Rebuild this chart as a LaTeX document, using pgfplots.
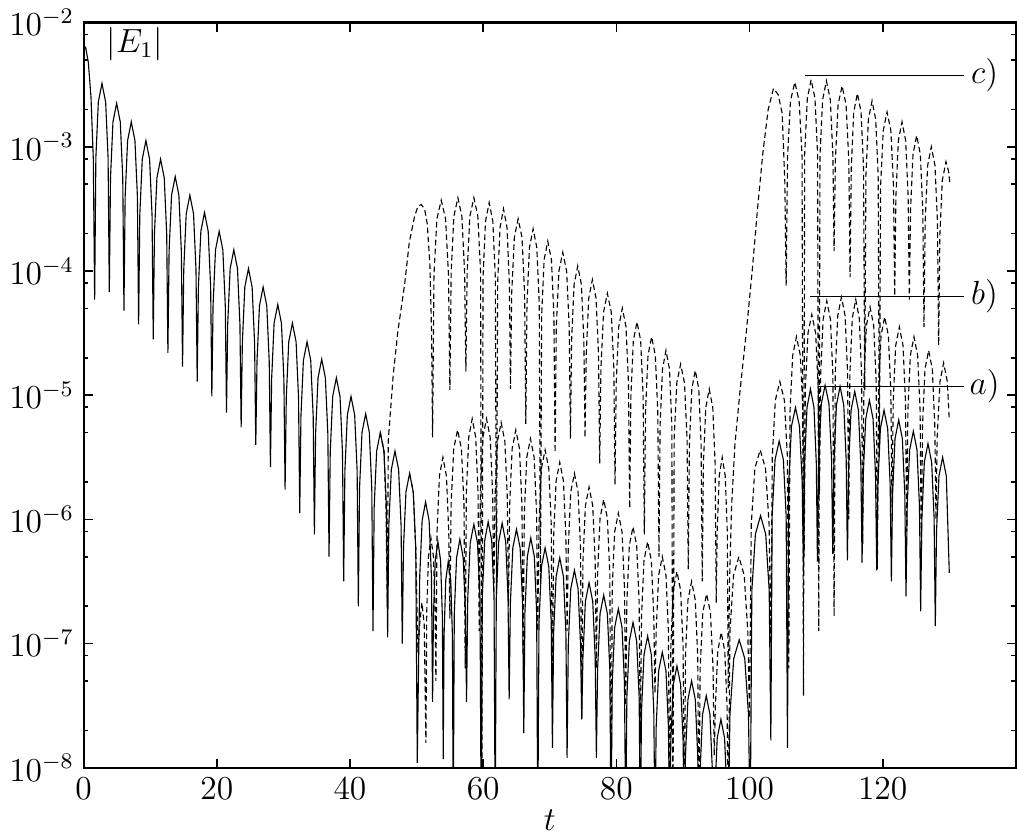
\documentclass[border=0pt]{standalone}
\usepackage{pgfplots}
\pgfplotsset{compat=1.18}
\begin{document}
% y values are log10|E_1|
\begin{tikzpicture}
\begin{axis}[
    scale only axis, width=334pt, height=267pt,
    xmin=0, xmax=140, ymin=-8, ymax=-2,
    xtick={0,20,40,60,80,100,120},
    ytick={-8,-7,-6,-5,-4,-3,-2},
    yticklabels={$10^{-8}$,$10^{-7}$,$10^{-6}$,$10^{-5}$,$10^{-4}$,$10^{-3}$,$10^{-2}$},
    minor ytick={-7.699,-7.301,-7.097,-6.699,-6.301,-6.097,-5.699,-5.301,-5.097,-4.699,-4.301,-4.097,-3.699,-3.301,-3.097,-2.699,-2.301,-2.097},
    tick align=inside,
    major tick length=3.2pt, minor tick length=1.6pt,
    axis line style={line width=0.8pt},
    tick style={line width=0.6pt, black},
    tick label style={font=\large},
    label style={font=\large},
    xlabel={$t$},
    xlabel style={yshift=3pt},
    no markers,
]
% c)
\addplot[black, line width=0.4pt, dash pattern=on 2pt off 1.2pt] coordinates {
(44.55,-5.30) (45.1,-5.45) (45.4,-5.9) (45.6,-6.71)
(45.75,-5.36) (46.5,-4.83) (47.2,-4.48) (48.2,-4.11) (48.9,-3.77) (49.7,-3.56) (50.2,-3.48) (50.7,-3.465) (51.2,-3.50) (51.6,-3.62) (52.0,-3.95) (52.25,-4.5) (52.4,-5.34)
(52.61,-4.03) (53.05,-3.58) (53.7,-3.43) (54.35,-3.58) (54.79,-4.03) (55.0,-4.96)
(55.19,-4.01) (55.6,-3.56) (56.2,-3.41) (56.8,-3.56) (57.21,-4.01) (57.4,-4.81)
(57.59,-4.01) (58.0,-3.56) (58.6,-3.41) (59.2,-3.56) (59.61,-4.01) (59.8,-8.5)
(59.98,-4.05) (60.35,-3.60) (60.9,-3.45) (61.45,-3.60) (61.82,-4.05) (62.0,-6.6)
(62.17,-4.10) (62.53,-3.65) (63.05,-3.50) (63.58,-3.65) (63.93,-4.10) (64.1,-4.95)
(64.28,-4.18) (64.68,-3.73) (65.25,-3.58) (65.83,-3.73) (66.22,-4.18) (66.4,-5.23)
(66.58,-4.26) (66.95,-3.81) (67.5,-3.66) (68.05,-3.81) (68.42,-4.26) (68.6,-6.5)
(68.78,-4.36) (69.15,-3.91) (69.7,-3.76) (70.25,-3.91) (70.62,-4.36) (70.8,-5.46)
(70.98,-4.45) (71.38,-4.00) (71.95,-3.85) (72.53,-4.00) (72.92,-4.45) (73.1,-5.35)
(73.28,-4.56) (73.65,-4.11) (74.2,-3.96) (74.75,-4.11) (75.12,-4.56) (75.3,-5.34)
(75.48,-4.67) (75.85,-4.22) (76.4,-4.07) (76.95,-4.22) (77.32,-4.67) (77.5,-5.55)
(77.68,-4.78) (78.08,-4.33) (78.65,-4.18) (79.23,-4.33) (79.62,-4.78) (79.8,-5.72)
(79.98,-4.90) (80.35,-4.45) (80.9,-4.30) (81.45,-4.45) (81.82,-4.90) (82.0,-5.91)
(82.18,-5.01) (82.55,-4.56) (83.1,-4.41) (83.65,-4.56) (84.02,-5.01) (84.2,-6.12)
(84.38,-5.13) (84.75,-4.68) (85.3,-4.53) (85.85,-4.68) (86.22,-5.13) (86.4,-6.3)
(86.57,-5.24) (86.93,-4.79) (87.45,-4.64) (87.98,-4.79) (88.33,-5.24) (88.5,-8.5)
(88.68,-5.35) (89.08,-4.90) (89.65,-4.75) (90.23,-4.90) (90.62,-5.35) (90.8,-6.4)
(90.97,-5.40) (91.33,-4.95) (91.85,-4.80) (92.38,-4.95) (92.73,-5.40) (92.9,-6.5)
(93.07,-5.55) (93.43,-5.10) (93.95,-4.95) (94.48,-5.10) (94.83,-5.55) (95.0,-6.67)
(95.14,-6.10) (95.45,-5.65) (95.9,-5.50) (96.35,-5.65) (96.66,-6.10) (96.8,-7.36)
(97.0,-6.5) (97.3,-5.9) (97.8,-5.4) (98.6,-4.95) (99.5,-4.5) (100.4,-4.0) (101.2,-3.5) (102.0,-3.05) (102.8,-2.7) (103.6,-2.53) (104.3,-2.58) (104.9,-2.73) (105.3,-3.28) (105.5,-4.12)
(105.71,-3.08) (106.15,-2.63) (106.8,-2.48) (107.45,-2.63) (107.89,-3.08) (108.1,-7.42)
(108.28,-3.06) (108.68,-2.61) (109.25,-2.46) (109.83,-2.61) (110.22,-3.06) (110.4,-6.9)
(110.58,-3.07) (110.98,-2.62) (111.55,-2.47) (112.13,-2.62) (112.52,-3.07) (112.7,-3.84)
(112.89,-3.11) (113.3,-2.66) (113.9,-2.51) (114.5,-2.66) (114.91,-3.11) (115.1,-4.05)
(115.28,-3.17) (115.65,-2.72) (116.2,-2.57) (116.75,-2.72) (117.12,-3.17) (117.3,-4.96)
(117.48,-3.23) (117.85,-2.78) (118.4,-2.63) (118.95,-2.78) (119.32,-3.23) (119.5,-5.5)
(119.68,-3.32) (120.08,-2.87) (120.65,-2.72) (121.23,-2.87) (121.62,-3.32) (121.8,-4.2)
(121.98,-3.40) (122.35,-2.95) (122.9,-2.80) (123.45,-2.95) (123.82,-3.40) (124.0,-4.23)
(124.18,-3.51) (124.55,-3.06) (125.1,-2.91) (125.65,-3.06) (126.02,-3.51) (126.2,-4.45)
(126.38,-3.60) (126.75,-3.15) (127.3,-3.00) (127.85,-3.15) (128.22,-3.60) (128.4,-4.6)
(128.58,-3.72) (128.95,-3.27) (129.5,-3.12) (129.9,-3.2) (130.1,-3.3)
};
% b)
\addplot[black, line width=0.4pt, dash pattern=on 2pt off 1.2pt] coordinates {
(48.95,-5.63) (49.5,-5.78) (49.87,-6.23) (50.2,-7.07)
(50.45,-6.85) (50.8,-6.67) (51.15,-6.85) (51.4,-7.8)
(51.52,-6.75) (51.78,-6.30) (52.15,-6.15) (52.53,-6.30) (52.78,-6.75) (52.9,-7.3)
(53.07,-6.10) (53.43,-5.65) (53.95,-5.50) (54.48,-5.65) (54.83,-6.10) (55.0,-6.8)
(55.18,-5.88) (55.58,-5.43) (56.15,-5.28) (56.73,-5.43) (57.12,-5.88) (57.3,-7.2)
(57.47,-5.79) (57.83,-5.34) (58.35,-5.19) (58.88,-5.34) (59.23,-5.79) (59.4,-6.9)
(59.58,-5.79) (59.95,-5.34) (60.5,-5.19) (61.05,-5.34) (61.42,-5.79) (61.6,-6.6)
(61.78,-5.82) (62.15,-5.37) (62.7,-5.22) (63.25,-5.37) (63.62,-5.82) (63.8,-6.7)
(63.98,-5.88) (64.35,-5.43) (64.9,-5.28) (65.45,-5.43) (65.82,-5.88) (66.0,-7.1)
(66.18,-5.95) (66.55,-5.50) (67.1,-5.35) (67.65,-5.50) (68.02,-5.95) (68.2,-6.9)
(68.38,-6.04) (68.75,-5.59) (69.3,-5.44) (69.85,-5.59) (70.22,-6.04) (70.4,-7.4)
(70.58,-6.14) (70.95,-5.69) (71.5,-5.54) (72.05,-5.69) (72.42,-6.14) (72.6,-6.9)
(72.78,-6.23) (73.15,-5.78) (73.7,-5.63) (74.25,-5.78) (74.62,-6.23) (74.8,-7.6)
(74.98,-6.34) (75.35,-5.89) (75.9,-5.74) (76.45,-5.89) (76.82,-6.34) (77.0,-7.2)
(77.18,-6.44) (77.55,-5.99) (78.1,-5.84) (78.65,-5.99) (79.02,-6.44) (79.2,-8.5)
(79.38,-6.55) (79.75,-6.10) (80.3,-5.95) (80.85,-6.10) (81.22,-6.55) (81.4,-7.5)
(81.58,-6.66) (81.95,-6.21) (82.5,-6.06) (83.05,-6.21) (83.42,-6.66) (83.6,-7.8)
(83.78,-6.78) (84.15,-6.33) (84.7,-6.18) (85.25,-6.33) (85.62,-6.78) (85.8,-7.4)
(85.98,-6.90) (86.35,-6.45) (86.9,-6.30) (87.45,-6.45) (87.82,-6.90) (88.0,-8.5)
(88.18,-7.02) (88.55,-6.57) (89.1,-6.42) (89.65,-6.57) (90.02,-7.02) (90.2,-8.5)
(90.38,-7.10) (90.75,-6.65) (91.3,-6.50) (91.85,-6.65) (92.22,-7.10) (92.4,-8.5)
(92.58,-7.20) (92.98,-6.75) (93.55,-6.60) (94.13,-6.75) (94.52,-7.20) (94.7,-7.9)
(94.87,-7.51) (95.23,-7.06) (95.75,-6.91) (96.28,-7.06) (96.63,-7.51) (96.8,-8.5)
(97.06,-6.90) (97.6,-6.45) (98.4,-6.30) (99.2,-6.45) (99.74,-6.90) (100.0,-7.6)
(100.26,-6.04) (100.8,-5.59) (101.6,-5.44) (102.4,-5.59) (102.94,-6.04) (103.2,-7.0)
(103.42,-5.49) (103.88,-5.04) (104.55,-4.89) (105.23,-5.04) (105.68,-5.49) (105.9,-7.2)
(106.08,-5.13) (106.48,-4.68) (107.05,-4.53) (107.63,-4.68) (108.02,-5.13) (108.2,-6.3)
(108.38,-4.95) (108.78,-4.50) (109.35,-4.35) (109.93,-4.50) (110.32,-4.95) (110.5,-5.8)
(110.68,-4.84) (111.05,-4.39) (111.6,-4.24) (112.15,-4.39) (112.52,-4.84) (112.7,-6.78)
(112.88,-4.81) (113.25,-4.36) (113.8,-4.21) (114.35,-4.36) (114.72,-4.81) (114.9,-6.0)
(115.07,-4.83) (115.43,-4.38) (115.95,-4.23) (116.48,-4.38) (116.83,-4.83) (117.0,-6.2)
(117.18,-4.89) (117.55,-4.44) (118.1,-4.29) (118.65,-4.44) (119.02,-4.89) (119.2,-6.4)
(119.38,-4.97) (119.75,-4.52) (120.3,-4.37) (120.85,-4.52) (121.22,-4.97) (121.4,-5.9)
(121.58,-5.05) (121.95,-4.60) (122.5,-4.45) (123.05,-4.60) (123.42,-5.05) (123.6,-6.1)
(123.78,-5.13) (124.15,-4.68) (124.7,-4.53) (125.25,-4.68) (125.62,-5.13) (125.8,-6.3)
(125.98,-5.24) (126.35,-4.79) (126.9,-4.64) (127.45,-4.79) (127.82,-5.24) (128.0,-6.0)
(128.18,-5.34) (128.6,-4.89) (129.15,-4.74) (129.7,-4.89) (130.0,-5.2)
};
% a)
\addplot[black, line width=0.4pt] coordinates {
(0,-2.22) (0.3,-2.20) (0.7,-2.32) (1.1,-2.6) (1.45,-3.1) (1.65,-4.23)
(1.83,-3.09) (2.2,-2.64) (2.75,-2.49) (3.3,-2.64) (3.67,-3.09) (3.85,-4.17)
(4.03,-3.25) (4.4,-2.80) (4.95,-2.65) (5.5,-2.80) (5.87,-3.25) (6.05,-4.32)
(6.23,-3.40) (6.6,-2.95) (7.15,-2.80) (7.7,-2.95) (8.07,-3.40) (8.25,-4.43)
(8.43,-3.55) (8.8,-3.10) (9.35,-2.95) (9.9,-3.10) (10.27,-3.55) (10.45,-4.55)
(10.63,-3.70) (11.0,-3.25) (11.55,-3.10) (12.1,-3.25) (12.47,-3.70) (12.65,-4.66)
(12.83,-3.84) (13.2,-3.39) (13.75,-3.24) (14.3,-3.39) (14.67,-3.84) (14.85,-4.77)
(15.03,-3.99) (15.4,-3.54) (15.95,-3.39) (16.5,-3.54) (16.87,-3.99) (17.05,-4.89)
(17.23,-4.13) (17.6,-3.68) (18.15,-3.53) (18.7,-3.68) (19.07,-4.13) (19.25,-5.01)
(19.43,-4.28) (19.8,-3.83) (20.35,-3.68) (20.9,-3.83) (21.27,-4.28) (21.45,-5.14)
(21.63,-4.43) (22.0,-3.98) (22.55,-3.83) (23.1,-3.98) (23.47,-4.43) (23.65,-5.26)
(23.83,-4.58) (24.2,-4.13) (24.75,-3.98) (25.3,-4.13) (25.67,-4.58) (25.85,-5.40)
(26.03,-4.73) (26.4,-4.28) (26.95,-4.13) (27.5,-4.28) (27.87,-4.73) (28.05,-5.58)
(28.23,-4.87) (28.6,-4.42) (29.15,-4.27) (29.7,-4.42) (30.07,-4.87) (30.25,-5.76)
(30.43,-5.02) (30.8,-4.57) (31.35,-4.42) (31.9,-4.57) (32.27,-5.02) (32.45,-5.95)
(32.63,-5.17) (33.0,-4.72) (33.55,-4.57) (34.1,-4.72) (34.47,-5.17) (34.65,-6.12)
(34.83,-5.31) (35.2,-4.86) (35.75,-4.71) (36.3,-4.86) (36.67,-5.31) (36.85,-6.30)
(37.03,-5.46) (37.4,-5.01) (37.95,-4.86) (38.5,-5.01) (38.87,-5.46) (39.05,-6.50)
(39.23,-5.61) (39.6,-5.16) (40.15,-5.01) (40.7,-5.16) (41.07,-5.61) (41.25,-6.70)
(41.43,-5.75) (41.8,-5.30) (42.35,-5.15) (42.9,-5.30) (43.27,-5.75) (43.45,-6.90)
(43.63,-5.90) (44.0,-5.45) (44.55,-5.30) (45.1,-5.45) (45.47,-5.90) (45.65,-6.95)
(45.83,-6.05) (46.2,-5.60) (46.75,-5.45) (47.3,-5.60) (47.67,-6.05) (47.85,-7.0)
(48.03,-6.23) (48.4,-5.78) (48.95,-5.63) (49.5,-5.78) (49.87,-6.23) (50.1,-7.96)
(50.47,-6.46) (50.83,-6.01) (51.35,-5.86) (51.88,-6.01) (52.23,-6.46) (52.4,-7.47)
(52.53,-6.78) (52.8,-6.33) (53.2,-6.18) (53.6,-6.33) (53.87,-6.78) (54.0,-7.93)
(54.12,-6.94) (54.38,-6.49) (54.75,-6.34) (55.13,-6.49) (55.38,-6.94) (55.5,-8.5)
(55.66,-6.76) (56.0,-6.31) (56.5,-6.16) (57.0,-6.31) (57.34,-6.76) (57.5,-7.47)
(57.68,-6.64) (58.05,-6.19) (58.6,-6.04) (59.15,-6.19) (59.52,-6.64) (59.7,-8.5)
(59.87,-6.62) (60.23,-6.17) (60.75,-6.02) (61.28,-6.17) (61.63,-6.62) (61.8,-8.5)
(61.97,-6.63) (62.33,-6.18) (62.85,-6.03) (63.38,-6.18) (63.73,-6.63) (63.9,-7.45)
(64.08,-6.68) (64.45,-6.23) (65.0,-6.08) (65.55,-6.23) (65.92,-6.68) (66.1,-7.72)
(66.27,-6.75) (66.63,-6.30) (67.15,-6.15) (67.68,-6.30) (68.03,-6.75) (68.2,-8.5)
(68.38,-6.83) (68.75,-6.38) (69.3,-6.23) (69.85,-6.38) (70.22,-6.83) (70.4,-7.84)
(70.58,-6.91) (70.95,-6.46) (71.5,-6.31) (72.05,-6.46) (72.42,-6.91) (72.6,-7.92)
(72.78,-7.01) (73.15,-6.56) (73.7,-6.41) (74.25,-6.56) (74.62,-7.01) (74.8,-7.61)
(74.98,-7.11) (75.35,-6.66) (75.9,-6.51) (76.45,-6.66) (76.82,-7.11) (77.0,-7.92)
(77.18,-7.21) (77.55,-6.76) (78.1,-6.61) (78.65,-6.76) (79.02,-7.21) (79.2,-8.5)
(79.38,-7.32) (79.75,-6.87) (80.3,-6.72) (80.85,-6.87) (81.22,-7.32) (81.4,-8.5)
(81.58,-7.43) (81.95,-6.98) (82.5,-6.83) (83.05,-6.98) (83.42,-7.43) (83.6,-8.5)
(83.78,-7.54) (84.15,-7.09) (84.7,-6.94) (85.25,-7.09) (85.62,-7.54) (85.8,-8.5)
(85.98,-7.67) (86.35,-7.22) (86.9,-7.07) (87.45,-7.22) (87.82,-7.67) (88.0,-8.5)
(88.18,-7.78) (88.55,-7.33) (89.1,-7.18) (89.65,-7.33) (90.02,-7.78) (90.2,-8.5)
(90.38,-7.90) (90.75,-7.45) (91.3,-7.30) (91.85,-7.45) (92.22,-7.90) (92.4,-8.5)
(92.58,-8.02) (92.95,-7.57) (93.5,-7.42) (94.05,-7.57) (94.42,-8.02) (94.6,-8.5)
(94.78,-8.21) (95.15,-7.76) (95.7,-7.61) (96.25,-7.76) (96.62,-8.21) (96.8,-8.5)
(97.06,-7.57) (97.63,-7.12) (98.45,-6.97) (99.28,-7.12) (99.84,-7.57) (100.1,-8.5)
(100.35,-6.57) (100.88,-6.12) (101.65,-5.97) (102.43,-6.12) (102.95,-6.57) (103.2,-7.78)
(103.4,-5.97) (103.83,-5.52) (104.45,-5.37) (105.08,-5.52) (105.5,-5.97) (105.7,-7.84)
(105.89,-5.70) (106.3,-5.25) (106.9,-5.10) (107.5,-5.25) (107.91,-5.70) (108.1,-6.43)
(108.27,-5.55) (108.63,-5.10) (109.15,-4.95) (109.68,-5.10) (110.03,-5.55) (110.2,-6.34)
(110.38,-5.52) (110.78,-5.07) (111.35,-4.92) (111.93,-5.07) (112.32,-5.52) (112.5,-6.28)
(112.68,-5.53) (113.05,-5.08) (113.6,-4.93) (114.15,-5.08) (114.52,-5.53) (114.7,-6.33)
(114.88,-5.57) (115.25,-5.12) (115.8,-4.97) (116.35,-5.12) (116.72,-5.57) (116.9,-6.35)
(117.08,-5.64) (117.45,-5.19) (118.0,-5.04) (118.55,-5.19) (118.92,-5.64) (119.1,-6.41)
(119.28,-5.72) (119.65,-5.27) (120.2,-5.12) (120.75,-5.27) (121.12,-5.72) (121.3,-6.50)
(121.48,-5.80) (121.85,-5.35) (122.4,-5.20) (122.95,-5.35) (123.32,-5.80) (123.5,-6.62)
(123.68,-5.89) (124.05,-5.44) (124.6,-5.29) (125.15,-5.44) (125.52,-5.89) (125.7,-6.74)
(125.88,-5.99) (126.25,-5.54) (126.8,-5.39) (127.35,-5.54) (127.72,-5.99) (127.9,-6.86)
(128.08,-6.10) (128.45,-5.65) (129.0,-5.50) (129.55,-5.65) (130.0,-6.43)
};
\node[font=\large] at (axis cs:7.7,-2.17) {$|E_1|$};
\draw[line width=0.4pt] (axis cs:108.3,-2.425) -- (axis cs:132.2,-2.425);
\draw[line width=0.4pt] (axis cs:109.1,-4.205) -- (axis cs:132.2,-4.205);
\draw[line width=0.4pt] (axis cs:110.3,-4.927) -- (axis cs:132.2,-4.927);
\node[font=\large] at (axis cs:135.3,-2.425) {$c)$};
\node[font=\large] at (axis cs:135.3,-4.205) {$b)$};
\node[font=\large] at (axis cs:135.3,-4.927) {$a)$};
\end{axis}
\end{tikzpicture}
\end{document}
